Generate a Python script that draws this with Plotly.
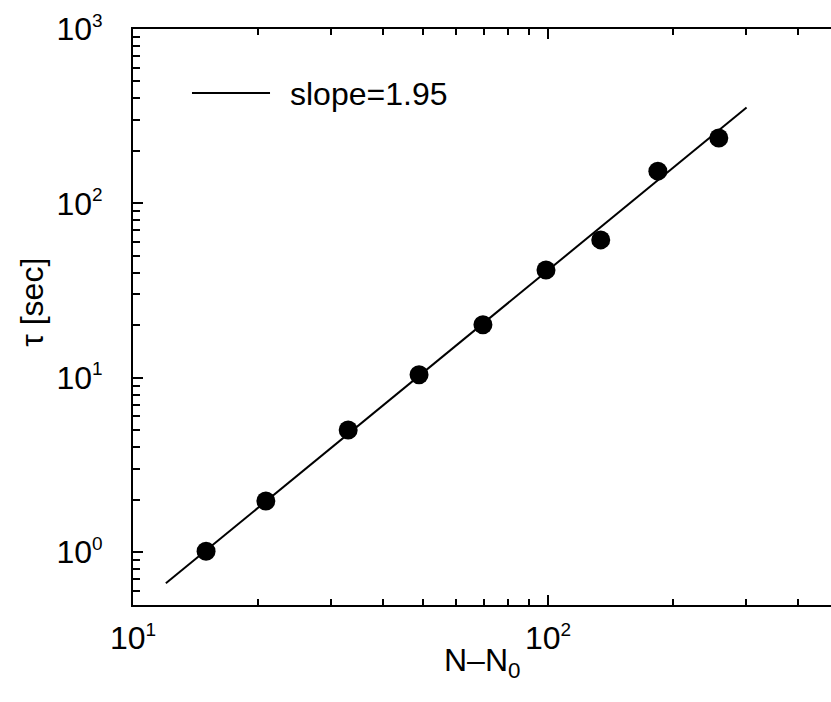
import math
import plotly.graph_objects as go

# Relaxation time tau versus N - N0 (log-log), with a power-law fit
n_minus_n0 = [15.0, 20.9, 33.0, 48.9, 69.7, 98.9, 134.0, 184.0, 258.0]
tau_sec = [1.01, 1.96, 5.01, 10.4, 20.1, 41.5, 61.7, 153.0, 237.0]

# power-law fit: log10(tau) = log_prefactor + slope * log10(N - N0)
slope = 1.95
log_prefactor = -2.284
fit_x = [12.0, 301.0]
fit_y = [10 ** log_prefactor * x ** slope for x in fit_x]

SUP = '<sup><span style="font-size:19px">{}</span></sup>'

x_major = [10, 100]
x_major_text = ["10" + SUP.format(1), "10" + SUP.format(2)]
x_minor = [20, 30, 40, 50, 60, 70, 80, 90, 200, 300, 400]

y_major = [1, 10, 100, 1000]
y_major_text = ["10" + SUP.format(k) for k in (0, 1, 2, 3)]
y_minor = ([0.5, 0.6, 0.7, 0.8, 0.9]
           + [2, 3, 4, 5, 6, 7, 8, 9]
           + [20, 30, 40, 50, 60, 70, 80, 90]
           + [200, 300, 400, 500, 600, 700, 800, 900])

FONT = "Liberation Sans, Arial, Helvetica, sans-serif"
X_RANGE = [1, 2.682]      # decades
Y_RANGE = [-0.304, 3.0]   # decades

fig = go.Figure()
fig.add_trace(go.Scatter(
    x=fit_x, y=fit_y, mode="lines",
    line=dict(color="black", width=2),
    showlegend=False, hoverinfo="skip",
))
fig.add_trace(go.Scatter(
    x=n_minus_n0, y=tau_sec, mode="markers",
    marker=dict(color="black", size=19, line=dict(width=0)),
    showlegend=False,
))
# carrier trace for the overlaid minor-tick axes (linear axes in decades)
fig.add_trace(go.Scatter(
    x=[math.log10(v) for v in fit_x], y=[math.log10(v) for v in fit_y],
    mode="markers", xaxis="x2", yaxis="y2",
    marker=dict(opacity=0), showlegend=False, hoverinfo="skip",
))

common = dict(showgrid=False, zeroline=False, tickcolor="black")

fig.update_layout(
    width=831, height=702,
    margin=dict(l=133, r=0, t=29, b=97),
    paper_bgcolor="white", plot_bgcolor="white",
    font=dict(family=FONT, color="black"),
    xaxis=dict(
        type="log", range=X_RANGE,
        showline=True, linewidth=2, linecolor="black", mirror="ticks",
        ticks="inside", ticklen=10, tickwidth=2,
        tickmode="array", tickvals=x_major, ticktext=x_major_text,
        tickfont=dict(size=32, family=FONT, color="black"),
        ticklabelstandoff=4, **common,
    ),
    yaxis=dict(
        type="log", range=Y_RANGE,
        showline=True, linewidth=2, linecolor="black", mirror=False,
        ticks="inside", ticklen=10, tickwidth=2,
        tickmode="array", tickvals=y_major, ticktext=y_major_text,
        tickfont=dict(size=32, family=FONT, color="black"),
        ticklabelstandoff=22, **common,
    ),
    xaxis2=dict(
        type="linear", range=X_RANGE, overlaying="x", anchor="y2", side="bottom",
        showline=True, linewidth=2, linecolor="black", mirror="ticks",
        ticks="inside", ticklen=6, tickwidth=2,
        tickmode="array", tickvals=[math.log10(v) for v in x_minor],
        showticklabels=False, **common,
    ),
    yaxis2=dict(
        type="linear", range=Y_RANGE, overlaying="y", anchor="x2", side="left",
        showline=True, linewidth=2, linecolor="black", mirror=False,
        ticks="inside", ticklen=7, tickwidth=2,
        tickmode="array", tickvals=[math.log10(v) for v in y_minor],
        showticklabels=False, **common,
    ),
    shapes=[
        # legend sample line
        dict(type="line", xref="paper", yref="paper",
             x0=0.0845, x1=0.1963, y0=0.889, y1=0.889,
             line=dict(color="black", width=2)),
    ],
    annotations=[
        dict(text="slope=1.95", xref="paper", yref="paper",
             x=0.222, y=0.887, xanchor="left", yanchor="middle",
             showarrow=False, font=dict(size=32, family=FONT, color="black")),
        dict(text="N\u2013N<sub>0</sub>", xref="paper", yref="paper",
             x=0.5, y=-0.1, xanchor="center", yanchor="middle",
             showarrow=False, font=dict(size=32, family=FONT, color="black")),
        dict(text="\u03c4 [sec]", xref="paper", yref="paper",
             x=-0.145, y=0.526, xanchor="center", yanchor="middle",
             textangle=-90,
             showarrow=False, font=dict(size=32, family=FONT, color="black")),
    ],
)

fig.write_html("out.html")
